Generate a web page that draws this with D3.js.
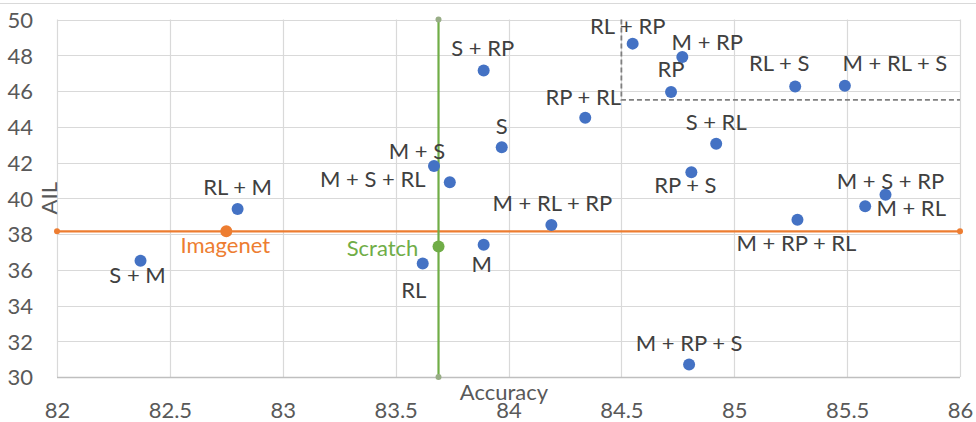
<!DOCTYPE html>
<html><head><meta charset="utf-8">
<script src="https://cdn.jsdelivr.net/npm/d3@7"></script>
<style>html,body{margin:0;padding:0;background:#fff}svg{display:block}</style>
</head><body><svg id="c" width="976" height="422"></svg>
<script>
// ---- data ----
const labels = ["S + M","RL + M","RL","M","M + RL + RP","M + S","M + S + RL","S","S + RP","RP + RL",
  "RL + RP","M + RP","RP","RL + S","M + RL + S","S + RL","RP + S","M + S + RP","M + RL","M + RP + RL","M + RP + S"];
const accuracy = [82.37,82.80,83.62,83.89,84.19,83.67,83.74,83.97,83.89,84.34,
  84.55,84.77,84.72,85.27,85.49,84.92,84.81,85.67,85.58,85.28,84.80];
const ail = [36.5,39.4,36.35,37.4,38.5,41.8,40.9,42.85,47.15,44.5,
  48.65,47.9,45.95,46.25,46.3,43.05,41.45,40.2,39.55,38.8,30.7];
const imagenetRef = {name:"Imagenet", accuracy:82.75, ail:38.15};
const scratchRef = {name:"Scratch", accuracy:83.69, ail:37.3};
const thresholdAcc = 84.5, thresholdAil = 45.5;
const xTicks = [82,82.5,83,83.5,84,84.5,85,85.5,86];
const yTicks = [30,32,34,36,38,40,42,44,46,48,50];
// label placement (layout only): [dx, dy] of label cap-centre from the point
const labelNudge = [[-3,14],[0,-22],[-9,27],[-2,19],[1,-22],[-17,-15],[-77,-3],[0,-21],[-1,-22],[-2,-21],
  [-5,-18],[25,-15],[0,-23],[-16,-23],[50,-23],[0,-22],[-6,13],[5,-14],[46,2],[-1,23],[0,-21]];

const svg = d3.select("#c");
const font = "Lato, 'Open Sans', sans-serif";
const x = d3.scaleLinear().domain([82,86]).range([57,960]);
const y = d3.scaleLinear().domain([30,50]).range([377,19.5]);

// outer frame top line
svg.append("line").attr("x1",0).attr("x2",976).attr("y1",3.5).attr("y2",3.5).attr("stroke","#d9d9d9");

// gridlines
svg.append("g").selectAll("line").data(yTicks).join("line")
  .attr("x1",x(82)).attr("x2",x(86)).attr("y1",d=>Math.round(y(d))+0.5).attr("y2",d=>Math.round(y(d))+0.5)
  .attr("stroke","#d9d9d9").attr("stroke-width",1.2);
svg.append("g").selectAll("line").data(xTicks).join("line")
  .attr("y1",y(30)).attr("y2",y(50)).attr("x1",d=>Math.round(x(d))+0.5).attr("x2",d=>Math.round(x(d))+0.5)
  .attr("stroke","#d9d9d9").attr("stroke-width",1.2);
// bottom axis line
svg.append("line").attr("x1",x(82)).attr("x2",x(86)).attr("y1",Math.round(y(30))+0.5).attr("y2",Math.round(y(30))+0.5)
  .attr("stroke","#bfbfbf").attr("stroke-width",1.3);

// axes via d3
const xAxis = svg.append("g").attr("transform",`translate(0,${y(30)})`)
  .call(d3.axisBottom(x).tickValues(xTicks).tickSize(0).tickPadding(25).tickFormat(d=>String(d)));
const yAxis = svg.append("g").attr("transform",`translate(${x(82)},0)`)
  .call(d3.axisLeft(y).tickValues(yTicks).tickSize(0).tickPadding(24).tickFormat(d=>String(d)));
[xAxis,yAxis].forEach(g=>{
  g.select(".domain").remove();
  g.selectAll("text").attr("font-family",font).attr("font-size",22).attr("fill","#595959");
});
yAxis.selectAll("text").attr("dy","0.36em");
xAxis.selectAll("text").attr("dy","0.71em");

// axis titles
svg.append("text").attr("x",504).attr("y",400).attr("text-anchor","middle")
  .attr("font-family",font).attr("font-size",22).attr("fill","#595959").text("Accuracy");
svg.append("text").attr("transform",`translate(57,${(y(30)+y(50))/2}) rotate(-90)`).attr("text-anchor","middle")
  .attr("font-family",font).attr("font-size",22).attr("fill","#595959").text("AIL");

// threshold dashed lines
svg.append("path").attr("d",`M${x(thresholdAcc)},${y(50)}V${y(thresholdAil)}H${x(86)}`)
  .attr("fill","none").attr("stroke","#7f7f7f").attr("stroke-width",1.8).attr("stroke-dasharray","5,3");

// Imagenet reference line
svg.append("line").attr("x1",x(82)).attr("x2",x(86)).attr("y1",y(imagenetRef.ail)).attr("y2",y(imagenetRef.ail))
  .attr("stroke","#ed7d31").attr("stroke-width",2.2);
svg.append("g").selectAll("circle").data([82,86]).join("circle")
  .attr("cx",d=>x(d)).attr("cy",y(imagenetRef.ail)).attr("r",3).attr("fill","#ed7d31");
// Scratch reference line
svg.append("line").attr("x1",x(scratchRef.accuracy)).attr("x2",x(scratchRef.accuracy)).attr("y1",y(30)).attr("y2",y(50))
  .attr("stroke","#70ad47").attr("stroke-width",2.2);
svg.append("g").selectAll("circle").data([30,50]).join("circle")
  .attr("cx",x(scratchRef.accuracy)).attr("cy",d=>y(d)).attr("r",3).attr("fill","#98ad86");

// reference markers
svg.append("circle").attr("cx",x(imagenetRef.accuracy)).attr("cy",y(imagenetRef.ail)).attr("r",6).attr("fill","#ed7d31");
svg.append("circle").attr("cx",x(scratchRef.accuracy)).attr("cy",y(scratchRef.ail)).attr("r",6).attr("fill","#70ad47");
svg.append("text").attr("x",x(imagenetRef.accuracy)-1).attr("y",y(imagenetRef.ail)+14).attr("dy","0.36em")
  .attr("text-anchor","middle").attr("font-family",font).attr("font-size",22).attr("fill","#ed7d31").text(imagenetRef.name);
svg.append("text").attr("x",x(scratchRef.accuracy)-56).attr("y",y(scratchRef.ail)+2).attr("dy","0.36em")
  .attr("text-anchor","middle").attr("font-family",font).attr("font-size",22).attr("fill","#70ad47").text(scratchRef.name);

// points
const pts = labels.map((l,i)=>({l, a:accuracy[i], v:ail[i], n:labelNudge[i]}));
svg.append("g").selectAll("circle").data(pts).join("circle")
  .attr("cx",d=>x(d.a)).attr("cy",d=>y(d.v)).attr("r",6).attr("fill","#4472c4");
svg.append("g").selectAll("text").data(pts).join("text")
  .attr("x",d=>x(d.a)+d.n[0]).attr("y",d=>y(d.v)+d.n[1]).attr("dy","0.36em").attr("text-anchor","middle")
  .attr("font-family",font).attr("font-size",22).attr("fill","#404040").text(d=>d.l);
</script></body></html>
